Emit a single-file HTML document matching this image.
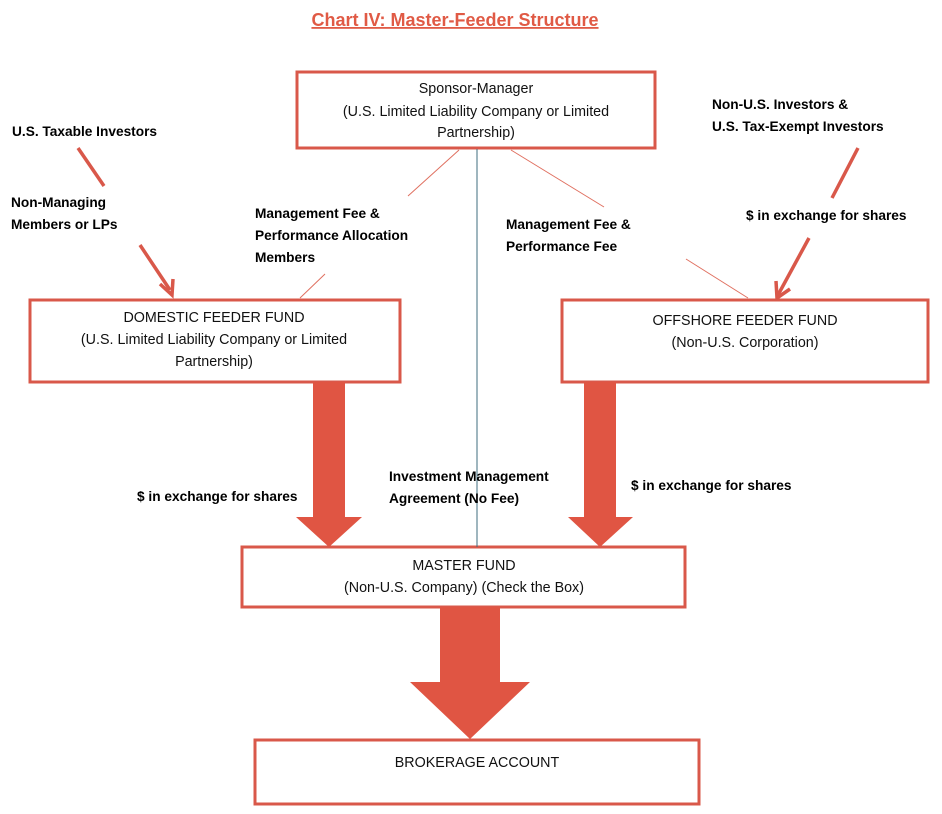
<!DOCTYPE html>
<html><head><meta charset="utf-8"><style>
html,body{margin:0;padding:0;background:#fff;}
svg{display:block;}
text{font-family:"Liberation Sans",sans-serif;}
.n{font-size:14.3px;fill:#111;text-anchor:middle;}
.b{font-size:13.7px;font-weight:bold;fill:#000;}
</style></head><body>
<svg width="942" height="814" viewBox="0 0 942 814" xmlns="http://www.w3.org/2000/svg">
<text x="455" y="26" text-anchor="middle" style="font-size:18px;font-weight:bold;fill:#e05a45;text-decoration:underline">Chart IV: Master-Feeder Structure</text>
<g fill="none" stroke="#d9584a" stroke-width="3">
<rect x="297" y="72" width="358" height="76"/>
<rect x="30" y="300" width="370" height="82"/>
<rect x="562" y="300" width="366" height="82"/>
<rect x="242" y="547" width="443" height="60"/>
<rect x="255" y="740" width="444" height="64"/>
</g>
<line x1="477" y1="149" x2="477" y2="547" stroke="#3f6e7f" stroke-width="1"/>
<g stroke="#e07060" stroke-width="1">
<line x1="459" y1="150" x2="408" y2="196"/>
<line x1="511" y1="150" x2="604" y2="207"/>
<line x1="325" y1="274" x2="300" y2="298"/>
<line x1="686" y1="259" x2="748" y2="298"/>
</g>
<g stroke="#d9584a" stroke-width="3.5" fill="none">
<line x1="78" y1="148" x2="104" y2="186"/>
<line x1="140" y1="245" x2="170" y2="290"/>
<polyline points="160,284 172,295 173,279"/>
<line x1="858" y1="148" x2="832" y2="198"/>
<line x1="809" y1="238" x2="778" y2="295"/>
<polyline points="776,281 777,298 790,289"/>
</g>
<g fill="#e05543">
<polygon points="313,382 345,382 345,517 362,517 329,547 296,517 313,517"/>
<polygon points="584,382 616,382 616,517 633,517 600,547 568,517 584,517"/>
<polygon points="440,607 500,607 500,682 530,682 470,739 410,682 440,682"/>
</g>
<text class="n" x="476" y="93">Sponsor-Manager</text>
<text class="n" x="476" y="116">(U.S. Limited Liability Company or Limited</text>
<text class="n" x="476" y="137">Partnership)</text>
<text class="n" x="214" y="322">DOMESTIC FEEDER FUND</text>
<text class="n" x="214" y="344">(U.S. Limited Liability Company or Limited</text>
<text class="n" x="214" y="366">Partnership)</text>
<text class="n" x="745" y="325">OFFSHORE FEEDER FUND</text>
<text class="n" x="745" y="347">(Non-U.S. Corporation)</text>
<text class="n" x="464" y="570">MASTER FUND</text>
<text class="n" x="464" y="592">(Non-U.S. Company) (Check the Box)</text>
<text class="n" x="477" y="767">BROKERAGE ACCOUNT</text>
<text class="b" x="12" y="136">U.S. Taxable Investors</text>
<text class="b" x="11" y="207">Non-Managing</text>
<text class="b" x="11" y="229">Members or LPs</text>
<text class="b" x="255" y="218">Management Fee &amp;</text>
<text class="b" x="255" y="240">Performance Allocation</text>
<text class="b" x="255" y="262">Members</text>
<text class="b" x="506" y="229">Management Fee &amp;</text>
<text class="b" x="506" y="251">Performance Fee</text>
<text class="b" x="712" y="109">Non-U.S. Investors &amp;</text>
<text class="b" x="712" y="131">U.S. Tax-Exempt Investors</text>
<text class="b" x="746" y="220">$ in exchange for shares</text>
<text class="b" x="137" y="501">$ in exchange for shares</text>
<text class="b" x="389" y="481">Investment Management</text>
<text class="b" x="389" y="503">Agreement (No Fee)</text>
<text class="b" x="631" y="490">$ in exchange for shares</text>
</svg>
</body></html>
